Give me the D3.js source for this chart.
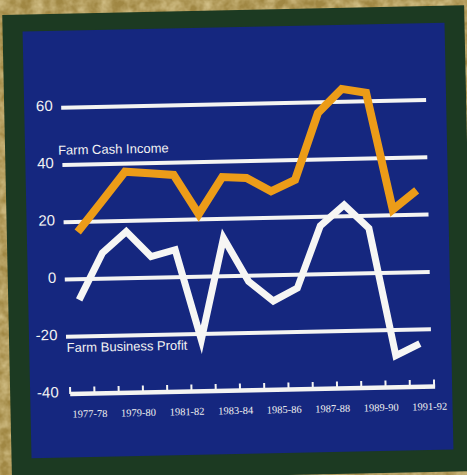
<!DOCTYPE html>
<html>
<head>
<meta charset="utf-8">
<script src="https://cdn.jsdelivr.net/npm/d3@7"></script>
<style>
  html, body { margin: 0; padding: 0; background: #a99052; }
  svg { display: block; }
</style>
</head>
<body>
<svg id="chart" width="467" height="475"></svg>
<script>
// values (A$ billion)
const years = ["1977-78", "1978-79", "1979-80", "1980-81", "1981-82", "1982-83", "1983-84",
    "1984-85", "1985-86", "1986-87", "1987-88", "1988-89", "1989-90", "1990-91", "1991-92"];
const cashIncome = [16.5, 26.8, 37.2, 36.5, 35.7, 21.8, 34.6, 34.1, 29.3, 33.1, 56.3, 64.5, 63, 22, 28.5];
const businessProfit = [-7.2, 9, 16.3, 7.4, 9.6, -22, 13.3, -2, -9, -4.7, 16.9, 24, 15.7, -29, -25];
const yTicks = [-40, -20, 0, 20, 40, 60];
const seriesNames = ["Farm Cash Income", "Farm Business Profit"];

document.addEventListener("DOMContentLoaded", function() {

    const svg = d3.select("#chart");
    const W = 467, H = 475;

    // mottled gold paper behind the board
    const defs = svg.append("defs");
    const f = defs.append("filter").attr("id", "paper")
        .attr("x", 0).attr("y", 0).attr("width", "100%").attr("height", "100%");
    f.append("feTurbulence").attr("type", "fractalNoise")
        .attr("baseFrequency", 0.09).attr("numOctaves", 3).attr("seed", 4);
    f.append("feColorMatrix").attr("type", "matrix")
        .attr("values", "0 0 0 0 0.86  0 0 0 0 0.74  0 0 0 0 0.42  1.1 0 0 0 -0.3");

    svg.append("rect").attr("width", W).attr("height", H).attr("fill", "#a08743");
    svg.append("rect").attr("width", W).attr("height", H).attr("filter", "url(#paper)");

    // the whole board is photographed slightly tilted
    const board = svg.append("g").attr("transform", "rotate(-1.2, 238, 240)");

    board.append("rect")
        .attr("x", 7).attr("y", 10).attr("width", 462).attr("height", 466)
        .attr("fill", "#1c3a22");
    board.append("rect")
        .attr("x", 27).attr("y", 27).attr("width", 422).attr("height", 427)
        .attr("fill", "#15277f");

    const x = d3.scaleBand().domain(years).range([67, 431]);
    const bw = x.bandwidth();
    const px = d => x(d) + bw * 0.45;

    const y = d3.scaleLinear().domain([-40, 60]).range([390.5, 104]);

    // gridlines (the -40 one is drawn as the axis)
    board.append("g").selectAll("line")
        .data(yTicks.filter(t => t > -40))
        .enter()
        .append("line")
        .attr("x1", 64).attr("x2", 429)
        .attr("y1", d => y(d)).attr("y2", d => y(d))
        .attr("stroke", "#f4f4f2")
        .attr("stroke-width", 4);

    board.append("line")
        .attr("x1", x.range()[0]).attr("x2", x.range()[1] + 1)
        .attr("y1", y(-40)).attr("y2", y(-40))
        .attr("stroke", "#f4f4f2")
        .attr("stroke-width", 4.5);

    const tickPos = years.map(d => x(d)).concat([x.range()[1]]);
    board.append("g").selectAll("line")
        .data(tickPos)
        .enter()
        .append("line")
        .attr("x1", d => d).attr("x2", d => d)
        .attr("y1", y(-40) - 7).attr("y2", y(-40))
        .attr("stroke", "#f4f4f2")
        .attr("stroke-width", 2);

    // y labels
    board.append("g").selectAll("text")
        .data(yTicks)
        .enter()
        .append("text")
        .attr("x", 55.5)
        .attr("y", d => y(d) + 3)
        .attr("text-anchor", "end")
        .attr("font-family", "Liberation Sans, Arial, sans-serif")
        .attr("font-size", 15)
        .attr("fill", "#f2f2f2")
        .text(d => d);

    // x labels, every other season
    board.append("g").selectAll("text")
        .data(years.filter((d, i) => i % 2 === 0))
        .enter()
        .append("text")
        .attr("x", d => x(d) + bw * 0.8)
        .attr("y", 414)
        .attr("text-anchor", "middle")
        .attr("font-family", "Liberation Serif, Times New Roman, serif")
        .attr("font-size", 10.5)
        .attr("fill", "#eeeeee")
        .text(d => d);

    const line = d3.line()
        .x((d, i) => px(years[i]))
        .y(d => y(d));

    board.append("path")
        .datum(businessProfit)
        .attr("d", line)
        .attr("fill", "none")
        .attr("stroke", "#f6f6f4")
        .attr("stroke-width", 7)
        .attr("stroke-linejoin", "miter")
        .attr("stroke-miterlimit", 6);

    board.append("path")
        .datum(cashIncome)
        .attr("d", line)
        .attr("fill", "none")
        .attr("stroke", "#ec9c18")
        .attr("stroke-width", 8)
        .attr("stroke-linejoin", "miter")
        .attr("stroke-miterlimit", 6);

    // series names
    board.append("text")
        .attr("x", 60).attr("y", 151)
        .attr("font-family", "Liberation Sans, Arial, sans-serif")
        .attr("font-size", 13)
        .attr("fill", "#f2f2f2")
        .text(seriesNames[0]);

    board.append("text")
        .attr("x", 64.5).attr("y", 348.5)
        .attr("font-family", "Liberation Sans, Arial, sans-serif")
        .attr("font-size", 13)
        .attr("fill", "#f2f2f2")
        .text(seriesNames[1]);
});
</script>
</body>
</html>
